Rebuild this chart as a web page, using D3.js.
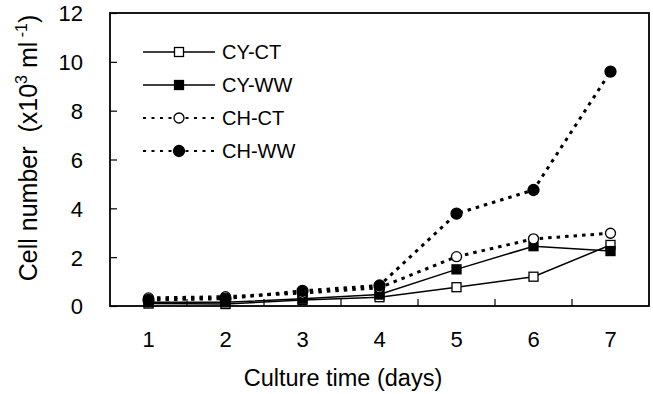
<!DOCTYPE html>
<html>
<head>
<meta charset="utf-8">
<script src="https://cdn.jsdelivr.net/npm/d3@7"></script>
<style>
  body { margin: 0; background: #fff; }
  text { font-family: Arial, "Liberation Sans", sans-serif; fill: #000; }
</style>
</head>
<body>
<div id="chart"></div>
<script>
// 1. data
const days = [1, 2, 3, 4, 5, 6, 7];
const cyCT = [0.1, 0.08, 0.25, 0.36, 0.77, 1.2, 2.5];
const cyWW = [0.15, 0.15, 0.3, 0.47, 1.5, 2.45, 2.25];
const chCT = [0.33, 0.38, 0.53, 0.75, 2.02, 2.75, 2.98];
const chWW = [0.25, 0.3, 0.62, 0.84, 3.78, 4.75, 9.6];
const yTicks = [0, 2, 4, 6, 8, 10, 12];

const series = [
    { name: "CY-CT", values: cyCT, dash: null, shape: "square", fill: "#fff" },
    { name: "CY-WW", values: cyWW, dash: null, shape: "square", fill: "#000" },
    { name: "CH-CT", values: chCT, dash: "3.5,5", shape: "circle", fill: "#fff" },
    { name: "CH-WW", values: chWW, dash: "3.5,5", shape: "circle", fill: "#000" }
];

// 2. svg
const width = 653;
const height = 394;
const margin = { top: 13, right: 4, bottom: 88, left: 110 };

const svg = d3.select("#chart")
    .append("svg")
    .attr("width", width)
    .attr("height", height);

const x = d3.scaleBand()
    .domain(days)
    .range([margin.left, width - margin.right]);

const y = d3.scaleLinear()
    .domain([0, 12])
    .range([height - margin.bottom, margin.top]);

// 3. axes (ticks point inward)
const yAxis = svg.append("g")
    .attr("transform", `translate(${margin.left},0)`)
    .call(d3.axisLeft(y).tickValues(yTicks).tickSize(-7).tickPadding(27));
yAxis.select(".domain").remove();
yAxis.selectAll("line").attr("stroke", "#000").attr("stroke-width", 1.2);
yAxis.selectAll("text").style("font-size", "22px").attr("dy", "0.36em");

const xAxis = svg.append("g")
    .attr("transform", `translate(0,${height - margin.bottom})`)
    .call(d3.axisBottom(x).tickSize(0).tickPadding(25));
xAxis.select(".domain").remove();
xAxis.selectAll("text").style("font-size", "22px");

// category boundary ticks
svg.append("g")
    .selectAll("line")
    .data(days.slice(1))
    .join("line")
    .attr("x1", d => x(d))
    .attr("x2", d => x(d))
    .attr("y1", y(0))
    .attr("y2", y(0) - 7)
    .attr("stroke", "#000")
    .attr("stroke-width", 1.2);

// plot frame
svg.append("rect")
    .attr("x", margin.left)
    .attr("y", margin.top)
    .attr("width", width - margin.left - margin.right)
    .attr("height", height - margin.top - margin.bottom)
    .attr("fill", "none")
    .attr("stroke", "#000")
    .attr("stroke-width", 1.8);

// 4. series
const line = d3.line()
    .x((d, i) => x(days[i]) + x.bandwidth() / 2)
    .y(d => y(d));

function drawMarker(g, s, cx, cy) {
    if (s.shape === "square") {
        g.append("rect")
            .attr("x", cx - 4.5)
            .attr("y", cy - 4.5)
            .attr("width", 9)
            .attr("height", 9)
            .attr("fill", s.fill)
            .attr("stroke", "#000")
            .attr("stroke-width", 1.3);
    } else {
        g.append("circle")
            .attr("cx", cx)
            .attr("cy", cy)
            .attr("r", s.fill === "#000" ? 5.5 : 5)
            .attr("fill", s.fill)
            .attr("stroke", "#000")
            .attr("stroke-width", 1.3);
    }
}

series.forEach(s => {
    const g = svg.append("g");
    g.append("path")
        .datum(s.values)
        .attr("d", line)
        .attr("fill", "none")
        .attr("stroke", "#000")
        .attr("stroke-width", s.dash ? 3 : 1.5)
        .attr("stroke-dasharray", s.dash);
    s.values.forEach((v, i) => drawMarker(g, s, x(days[i]) + x.bandwidth() / 2, y(v)));
});

// 5. legend
const legend = svg.append("g");
series.forEach((s, i) => {
    const ly = 52 + i * 33;
    const g = legend.append("g");
    g.append("line")
        .attr("x1", 143)
        .attr("x2", 215)
        .attr("y1", ly)
        .attr("y2", ly)
        .attr("stroke", "#000")
        .attr("stroke-width", s.dash ? 2.2 : 1.5)
        .attr("stroke-dasharray", s.dash ? "3,5.5" : null);
    drawMarker(g, s, 179, ly);
    g.append("text")
        .attr("x", 222)
        .attr("y", ly)
        .attr("dy", "0.36em")
        .style("font-size", "20px")
        .text(s.name);
});

// 6. axis titles
svg.append("text")
    .attr("x", 343)
    .attr("y", 386)
    .attr("text-anchor", "middle")
    .style("font-size", "23.5px")
    .text("Culture time (days)");

const yTitle = svg.append("text")
    .attr("transform", "translate(37,148) rotate(-90)")
    .attr("text-anchor", "middle")
    .style("font-size", "25px")
    .style("white-space", "pre");
yTitle.append("tspan").text("Cell number  (x10");
yTitle.append("tspan").attr("dy", -10).style("font-size", "16px").text("3");
yTitle.append("tspan").attr("dy", 10).text(" ml");
yTitle.append("tspan").attr("dy", -10).style("font-size", "16px").text(" -1");
yTitle.append("tspan").attr("dy", 10).text(")");
</script>
</body>
</html>
